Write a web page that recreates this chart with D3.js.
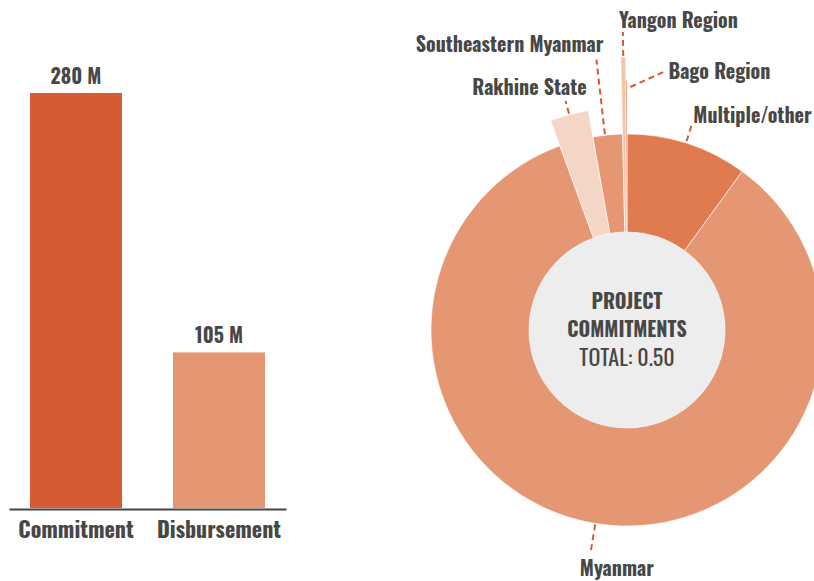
<!DOCTYPE html>
<html>
<head>
<meta charset="utf-8">
<script src="https://cdn.jsdelivr.net/npm/d3@7"></script>
<style>
  body { margin: 0; background: #fff; }
  text { font-family: "Oswald", "Liberation Sans Narrow", "DejaVu Sans Condensed", sans-serif; fill: #474747; }
</style>
</head>
<body>
<script>
// bar chart data
const categories = ["Commitment", "Disbursement"];
const amounts = [280, 105];
const amountLabels = ["280 M", "105 M"];

// donut data
const regions = ["Multiple/other", "Myanmar", "Rakhine State", "Southeastern Myanmar", "Yangon Region", "Bago Region"];
const commitments = [0.05, 0.4222, 0.0139, 0.0121, 0.0014, 0.0004];
const centerTitle = ["PROJECT", "COMMITMENTS"];
const totalLabel = "TOTAL: 0.50";

const w = 814;
const h = 581;

const svg = d3.select("body")
  .append("svg")
  .attr("width", w)
  .attr("height", h);

// ---- bars ----
const barColors = ["#d55b32", "#e59672"];

const x = d3.scaleBand()
  .domain(categories)
  .range([9, 286])
  .paddingInner(0.357)
  .paddingOuter(0.147);

const y = d3.scaleLinear()
  .domain([0, 280])
  .range([508, 93]);

const bars = svg.append("g");

bars.selectAll("rect")
  .data(categories)
  .enter()
  .append("rect")
  .attr("x", (d) => x(d))
  .attr("y", (d, i) => y(amounts[i]))
  .attr("width", x.bandwidth())
  .attr("height", (d, i) => y(0) - y(amounts[i]))
  .attr("fill", (d, i) => barColors[i]);

bars.selectAll(".value")
  .data(categories)
  .enter()
  .append("text")
  .attr("class", "value")
  .attr("x", (d) => x(d) + x.bandwidth() / 2)
  .attr("y", (d, i) => y(amounts[i]) - 9)
  .attr("text-anchor", "middle")
  .attr("font-size", 20)
  .attr("font-weight", "bold")
  .text((d, i) => amountLabels[i]);

const xAxis = svg.append("g")
  .attr("transform", `translate(0,${y(0) + 1})`)
  .call(d3.axisBottom(x).tickSize(0).tickPadding(13));

xAxis.select(".domain")
  .attr("stroke", "#444")
  .attr("stroke-width", 2);

xAxis.selectAll("text")
  .attr("font-size", 22)
  .attr("font-weight", "bold")
  .attr("fill", "#474747")
  .style("font-family", "'Oswald', 'Liberation Sans Narrow', 'DejaVu Sans Condensed', sans-serif");

// ---- donut ----
const cx = 627;
const cy = 330;
const innerR = 98;
const outerR = 196;

const sliceColors = {
  "Multiple/other": "#e07b50",
  "Myanmar": "#e59672",
  "Rakhine State": "#f4d6c6",
  "Southeastern Myanmar": "#e59672",
  "Yangon Region": "#f2c4aa",
  "Bago Region": "#d9673f"
};
const sliceOuter = {
  "Rakhine State": 223,
  "Yangon Region": 273,
  "Bago Region": 250
};

// leader line / label placement
const labelOpts = {
  "Multiple/other": { da: -0.5, r0: 198, r1: 214, anchor: "start", tx: 2, ty: -3 },
  "Myanmar": { da: 1.3, r0: 197, r1: 224, anchor: "start", tx: -11, ty: 25 },
  "Rakhine State": { r0: 224, r1: 237, anchor: "end", tx: 21, ty: -6 },
  "Southeastern Myanmar": { da: -0.8, r0: 197, r1: 272, anchor: "end", tx: 7, ty: -8 },
  "Yangon Region": { r0: 274, r1: 298, anchor: "start", tx: -4, ty: -4 },
  "Bago Region": { r0: 243, r1: 243, sx: 4, ex: 37, ey: -15, anchor: "start", tx: 5, ty: 7 }
};

const pie = d3.pie().sort(null).value((d, i) => commitments[i]);
const slices = pie(regions);

const arc = d3.arc()
  .innerRadius(innerR)
  .outerRadius((d) => sliceOuter[d.data] || outerR);

const donut = svg.append("g")
  .attr("transform", `translate(${cx},${cy})`);

donut.selectAll("path")
  .data(slices)
  .enter()
  .append("path")
  .attr("d", arc)
  .attr("fill", (d) => sliceColors[d.data])
  .attr("stroke", "#fff")
  .attr("stroke-width", 0.6);

donut.append("circle")
  .attr("r", innerR)
  .attr("fill", "#ededed");

// title, two lines
donut.selectAll(".title")
  .data(centerTitle)
  .enter()
  .append("text")
  .attr("class", "title")
  .attr("text-anchor", "middle")
  .attr("y", (d, i) => -21 + i * 28)
  .attr("font-size", 20)
  .attr("font-weight", "bold")
  .text((d) => d);

donut.append("text")
  .attr("text-anchor", "middle")
  .attr("y", 36)
  .attr("font-size", 22)
  .text(totalLabel);

function polar(a, r) {
  return [r * Math.sin(a), -r * Math.cos(a)];
}

donut.selectAll(".label")
  .data(slices)
  .enter()
  .append("g")
  .attr("class", "label")
  .each(function (d) {
    const o = labelOpts[d.data];
    const a = (d.startAngle + d.endAngle) / 2 + (o.da || 0) * Math.PI / 180;
    const p0 = polar(a, o.r0);
    const p1 = polar(a, o.r1);
    p0[0] += o.sx || 0;
    p1[0] += o.ex || 0;
    p1[1] += o.ey || 0;
    const g = d3.select(this);
    g.append("line")
      .attr("x1", p0[0])
      .attr("y1", p0[1])
      .attr("x2", p1[0])
      .attr("y2", p1[1])
      .attr("stroke", "#d55b32")
      .attr("stroke-width", 2)
      .attr("stroke-dasharray", "6,4");
    g.append("text")
      .attr("x", p1[0] + o.tx)
      .attr("y", p1[1] + o.ty)
      .attr("text-anchor", o.anchor)
      .attr("font-size", 20)
      .attr("font-weight", "bold")
      .text(d.data);
  });
</script>
</body>
</html>
